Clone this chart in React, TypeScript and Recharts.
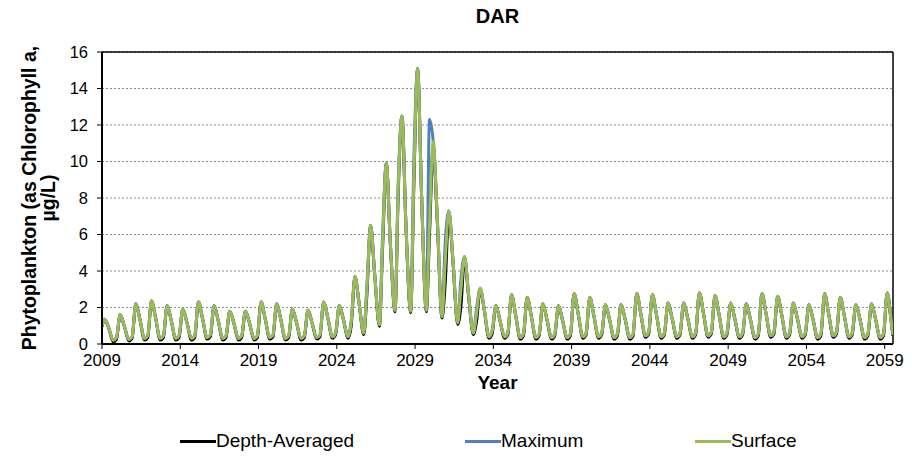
import React from 'react';
import {
  LineChart,
  Line,
  XAxis,
  YAxis,
  CartesianGrid,
  Legend,
  ReferenceLine,
} from 'recharts';

const FONT = "'Liberation Sans', Arial, Helvetica, sans-serif";

const FIRST_YEAR = 2009;
const X_END = 2059.53;
const X_TICKS = [2009, 2014, 2019, 2024, 2029, 2034, 2039, 2044, 2049, 2054, 2059];
const Y_TICKS = [0, 2, 4, 6, 8, 10, 12, 14, 16];

// where in each year the readings sit: bloom peak, falling limb, trough, pre-bloom
const YEAR_PHASES = [0.16, 0.42, 0.72, 0.92];

// one row per year 2009..2059: [peak, falling, trough, pre-bloom] in µg/L
const surface = [
  [1.35, 0.9, 0.2, 0.35], [1.6, 1.0, 0.25, 0.4], [2.2, 1.35, 0.3, 0.45], [2.35, 1.45, 0.3, 0.45],
  [2.1, 1.3, 0.3, 0.45], [1.9, 1.2, 0.3, 0.45], [2.3, 1.4, 0.35, 0.5], [2.1, 1.3, 0.3, 0.45],
  [1.8, 1.15, 0.3, 0.45], [1.8, 1.15, 0.3, 0.45], [2.3, 1.4, 0.35, 0.5], [2.2, 1.35, 0.3, 0.45],
  [1.9, 1.2, 0.3, 0.45], [1.85, 1.15, 0.35, 0.5], [2.3, 1.45, 0.4, 0.6], [2.1, 1.35, 0.4, 1.2],
  [3.7, 2.25, 0.6, 3.0], [6.5, 3.8, 1.05, 5.5], [9.9, 5.5, 1.85, 8.5], [12.5, 6.4, 1.8, 9.0],
  [15.1, 8.0, 1.85, 6.5], [11.1, 6.9, 1.5, 4.4], [7.3, 4.6, 1.15, 2.9], [4.8, 2.7, 0.6, 1.6],
  [3.05, 1.9, 0.4, 0.7], [2.1, 1.3, 0.4, 0.6], [2.7, 1.6, 0.35, 0.55], [2.55, 1.55, 0.35, 0.55],
  [2.2, 1.35, 0.35, 0.55], [2.1, 1.3, 0.35, 0.55], [2.75, 1.65, 0.4, 0.6], [2.55, 1.55, 0.4, 0.6],
  [2.15, 1.35, 0.35, 0.55], [2.15, 1.35, 0.35, 0.55], [2.75, 1.65, 0.45, 0.65], [2.7, 1.6, 0.4, 0.6],
  [2.25, 1.4, 0.4, 0.6], [2.25, 1.4, 0.4, 0.6], [2.8, 1.7, 0.45, 0.65], [2.65, 1.6, 0.4, 0.6],
  [2.25, 1.4, 0.4, 0.6], [2.2, 1.35, 0.35, 0.55], [2.75, 1.65, 0.45, 0.65], [2.6, 1.6, 0.4, 0.6],
  [2.25, 1.4, 0.4, 0.6], [2.15, 1.35, 0.35, 0.55], [2.75, 1.65, 0.45, 0.65], [2.55, 1.55, 0.4, 0.6],
  [2.15, 1.35, 0.35, 0.55], [2.2, 1.35, 0.35, 0.55], [2.8, 1.2, 0.45, 0.6],
];

const maximum = [
  [1.35, 0.9, 0.2, 0.35], [1.6, 1.0, 0.25, 0.4], [2.2, 1.35, 0.3, 0.45], [2.35, 1.45, 0.3, 0.45],
  [2.1, 1.3, 0.3, 0.45], [1.9, 1.2, 0.3, 0.45], [2.3, 1.4, 0.35, 0.5], [2.1, 1.3, 0.3, 0.45],
  [1.8, 1.15, 0.3, 0.45], [1.8, 1.15, 0.3, 0.45], [2.3, 1.4, 0.35, 0.5], [2.2, 1.35, 0.3, 0.45],
  [1.9, 1.2, 0.3, 0.45], [1.85, 1.15, 0.35, 0.5], [2.3, 1.45, 0.4, 0.6], [2.1, 1.35, 0.4, 1.3],
  [3.7, 2.25, 0.6, 3.2], [6.5, 3.8, 1.05, 5.8], [9.9, 5.5, 1.85, 8.7], [12.5, 6.4, 1.8, 10.0],
  [15.1, 8.0, 1.85, 12.3], [11.1, 6.9, 1.5, 5.5], [7.3, 4.6, 1.15, 3.5], [4.8, 2.7, 0.6, 1.9],
  [3.05, 1.9, 0.4, 0.75], [2.1, 1.3, 0.4, 0.6], [2.7, 1.6, 0.35, 0.55], [2.55, 1.55, 0.35, 0.55],
  [2.2, 1.35, 0.35, 0.55], [2.1, 1.3, 0.35, 0.55], [2.75, 1.65, 0.4, 0.6], [2.55, 1.55, 0.4, 0.6],
  [2.15, 1.35, 0.35, 0.55], [2.15, 1.35, 0.35, 0.55], [2.75, 1.65, 0.45, 0.65], [2.7, 1.6, 0.4, 0.6],
  [2.25, 1.4, 0.4, 0.6], [2.25, 1.4, 0.4, 0.6], [2.8, 1.7, 0.45, 0.65], [2.65, 1.6, 0.4, 0.6],
  [2.25, 1.4, 0.4, 0.6], [2.2, 1.35, 0.35, 0.55], [2.75, 1.65, 0.45, 0.65], [2.6, 1.6, 0.4, 0.6],
  [2.25, 1.4, 0.4, 0.6], [2.15, 1.35, 0.35, 0.55], [2.75, 1.65, 0.45, 0.65], [2.55, 1.55, 0.4, 0.6],
  [2.15, 1.35, 0.35, 0.55], [2.2, 1.35, 0.35, 0.55], [2.8, 1.2, 0.45, 0.6],
];

const depthAveraged = [
  [1.35, 0.9, 0.12, 0.25], [1.6, 1.0, 0.17, 0.3], [2.2, 1.35, 0.22, 0.35], [2.35, 1.45, 0.22, 0.35],
  [2.1, 1.3, 0.22, 0.35], [1.9, 1.2, 0.22, 0.35], [2.3, 1.4, 0.27, 0.4], [2.1, 1.3, 0.22, 0.35],
  [1.8, 1.15, 0.22, 0.35], [1.8, 1.15, 0.22, 0.35], [2.3, 1.4, 0.27, 0.4], [2.2, 1.35, 0.22, 0.35],
  [1.9, 1.2, 0.22, 0.35], [1.85, 1.15, 0.27, 0.4], [2.3, 1.45, 0.32, 0.5], [2.1, 1.35, 0.32, 1.0],
  [3.7, 2.25, 0.52, 2.7], [6.5, 3.8, 0.97, 5.2], [9.9, 5.5, 1.77, 8.2], [12.5, 6.4, 1.72, 8.7],
  [15.1, 8.0, 1.77, 6.0], [10.8, 6.7, 1.42, 3.3], [7.2, 4.5, 1.07, 2.0], [4.7, 2.6, 0.52, 1.2],
  [3.0, 1.85, 0.32, 0.55], [2.1, 1.3, 0.32, 0.5], [2.7, 1.6, 0.27, 0.45], [2.55, 1.55, 0.27, 0.45],
  [2.2, 1.35, 0.27, 0.45], [2.1, 1.3, 0.27, 0.45], [2.75, 1.65, 0.32, 0.5], [2.55, 1.55, 0.32, 0.5],
  [2.15, 1.35, 0.27, 0.45], [2.15, 1.35, 0.27, 0.45], [2.75, 1.65, 0.37, 0.55], [2.7, 1.6, 0.32, 0.5],
  [2.25, 1.4, 0.32, 0.5], [2.25, 1.4, 0.32, 0.5], [2.8, 1.7, 0.37, 0.55], [2.65, 1.6, 0.32, 0.5],
  [2.25, 1.4, 0.32, 0.5], [2.2, 1.35, 0.27, 0.45], [2.75, 1.65, 0.37, 0.55], [2.6, 1.6, 0.32, 0.5],
  [2.25, 1.4, 0.32, 0.5], [2.15, 1.35, 0.27, 0.45], [2.75, 1.65, 0.37, 0.55], [2.55, 1.55, 0.32, 0.5],
  [2.15, 1.35, 0.27, 0.45], [2.2, 1.35, 0.27, 0.45], [2.8, 1.2, 0.37, 0.5],
];

// first reading (Jan 2009) and last reading (mid 2059)
const START_VALUES = { depth: 0.95, maximum: 1.0, surface: 1.0 };
const END_VALUES = { depth: 0.45, maximum: 0.5, surface: 0.5 };

function buildSeries(rows: number[][], start: number, end: number) {
  const pts = [{ year: FIRST_YEAR, value: start }];
  rows.forEach((row, i) => {
    row.forEach((v, k) => {
      const year = FIRST_YEAR + i + YEAR_PHASES[k];
      if (year < X_END) pts.push({ year, value: v });
    });
  });
  pts.push({ year: X_END, value: end });
  return pts;
}

const depthData = buildSeries(depthAveraged, START_VALUES.depth, END_VALUES.depth);
const maxData = buildSeries(maximum, START_VALUES.maximum, END_VALUES.maximum);
const surfaceData = buildSeries(surface, START_VALUES.surface, END_VALUES.surface);

const LEGEND_LEFT = [180, 465, 695];

const renderLegend = (props: any) => {
  const { payload = [] } = props;
  return (
    <div style={{ position: 'relative', width: 912, height: 70, fontFamily: FONT }}>
      {payload.map((p: any, i: number) => (
        <div
          key={p.value}
          style={{
            position: 'absolute',
            left: LEGEND_LEFT[i],
            top: 40,
            height: 22,
            display: 'flex',
            alignItems: 'center',
            whiteSpace: 'nowrap',
          }}
        >
          <span style={{ display: 'inline-block', width: 36, height: 3, background: p.color }} />
          <span style={{ fontSize: 19, color: '#000' }}>{p.value}</span>
        </div>
      ))}
    </div>
  );
};

const renderYLabel = (props: any) => {
  const vb = props.viewBox || { x: 0, y: 52, height: 292 };
  const cy = vb.y + vb.height / 2;
  return (
    <text
      transform={`translate(36, ${cy}) rotate(-90)`}
      textAnchor="middle"
      fontFamily={FONT}
      fontWeight="bold"
      fontSize={19.5}
      fill="#000"
    >
      <tspan x={0} y={0}>Phytoplankton (as Chlorophyll a,</tspan>
      <tspan x={0} y={19}>µg/L)</tspan>
    </text>
  );
};

export default function App() {
  return (
    <div style={{ position: 'fixed', left: 0, top: 0, width: 912, height: 460, background: '#fff' }}>
      <div
        style={{
          position: 'absolute',
          left: 102,
          width: 791,
          top: 5,
          textAlign: 'center',
          fontFamily: FONT,
          fontWeight: 'bold',
          fontSize: 20,
          zIndex: 1,
        }}
      >
        DAR
      </div>
      <LineChart width={912} height={460} margin={{ top: 52, right: 19, bottom: 0, left: 0 }}>
        <CartesianGrid vertical={false} stroke="#8c8c8c" strokeDasharray="2 2" />
        <XAxis
          type="number"
          dataKey="year"
          domain={[FIRST_YEAR, X_END]}
          allowDataOverflow
          ticks={X_TICKS}
          tick={{ fill: '#000', fontSize: 17, fontFamily: FONT }}
          tickSize={5}
          tickMargin={5}
          tickLine={{ stroke: '#000' }}
          axisLine={{ stroke: '#000', strokeWidth: 2 }}
          height={46}
          label={{
            value: 'Year',
            position: 'insideBottom',
            offset: 1,
            fill: '#000',
            fontSize: 19,
            fontWeight: 'bold',
            fontFamily: FONT,
          }}
        />
        <YAxis
          type="number"
          domain={[0, 16]}
          ticks={Y_TICKS}
          tick={{ fill: '#000', fontSize: 16.5, fontFamily: FONT }}
          tickSize={5}
          tickMargin={9}
          tickLine={{ stroke: '#000' }}
          axisLine={{ stroke: '#000', strokeWidth: 2 }}
          width={102}
          label={renderYLabel}
        />
        <ReferenceLine y={16} stroke="#000" strokeWidth={1.5} />
        <ReferenceLine x={X_END} stroke="#000" strokeWidth={1.5} />
        <Legend
          verticalAlign="bottom"
          content={renderLegend}
          wrapperStyle={{ left: 0, bottom: 0, width: 912, height: 70 }}
        />
        <Line
          data={depthData}
          dataKey="value"
          name="Depth-Averaged"
          type="monotone"
          stroke="#000000"
          strokeWidth={3}
          dot={false}
          activeDot={false}
          isAnimationActive={false}
        />
        <Line
          data={maxData}
          dataKey="value"
          name="Maximum"
          type="monotone"
          stroke="#4f81bd"
          strokeWidth={3}
          dot={false}
          activeDot={false}
          isAnimationActive={false}
        />
        <Line
          data={surfaceData}
          dataKey="value"
          name="Surface"
          type="monotone"
          stroke="#9bbb59"
          strokeWidth={3}
          dot={false}
          activeDot={false}
          isAnimationActive={false}
        />
      </LineChart>
    </div>
  );
}
